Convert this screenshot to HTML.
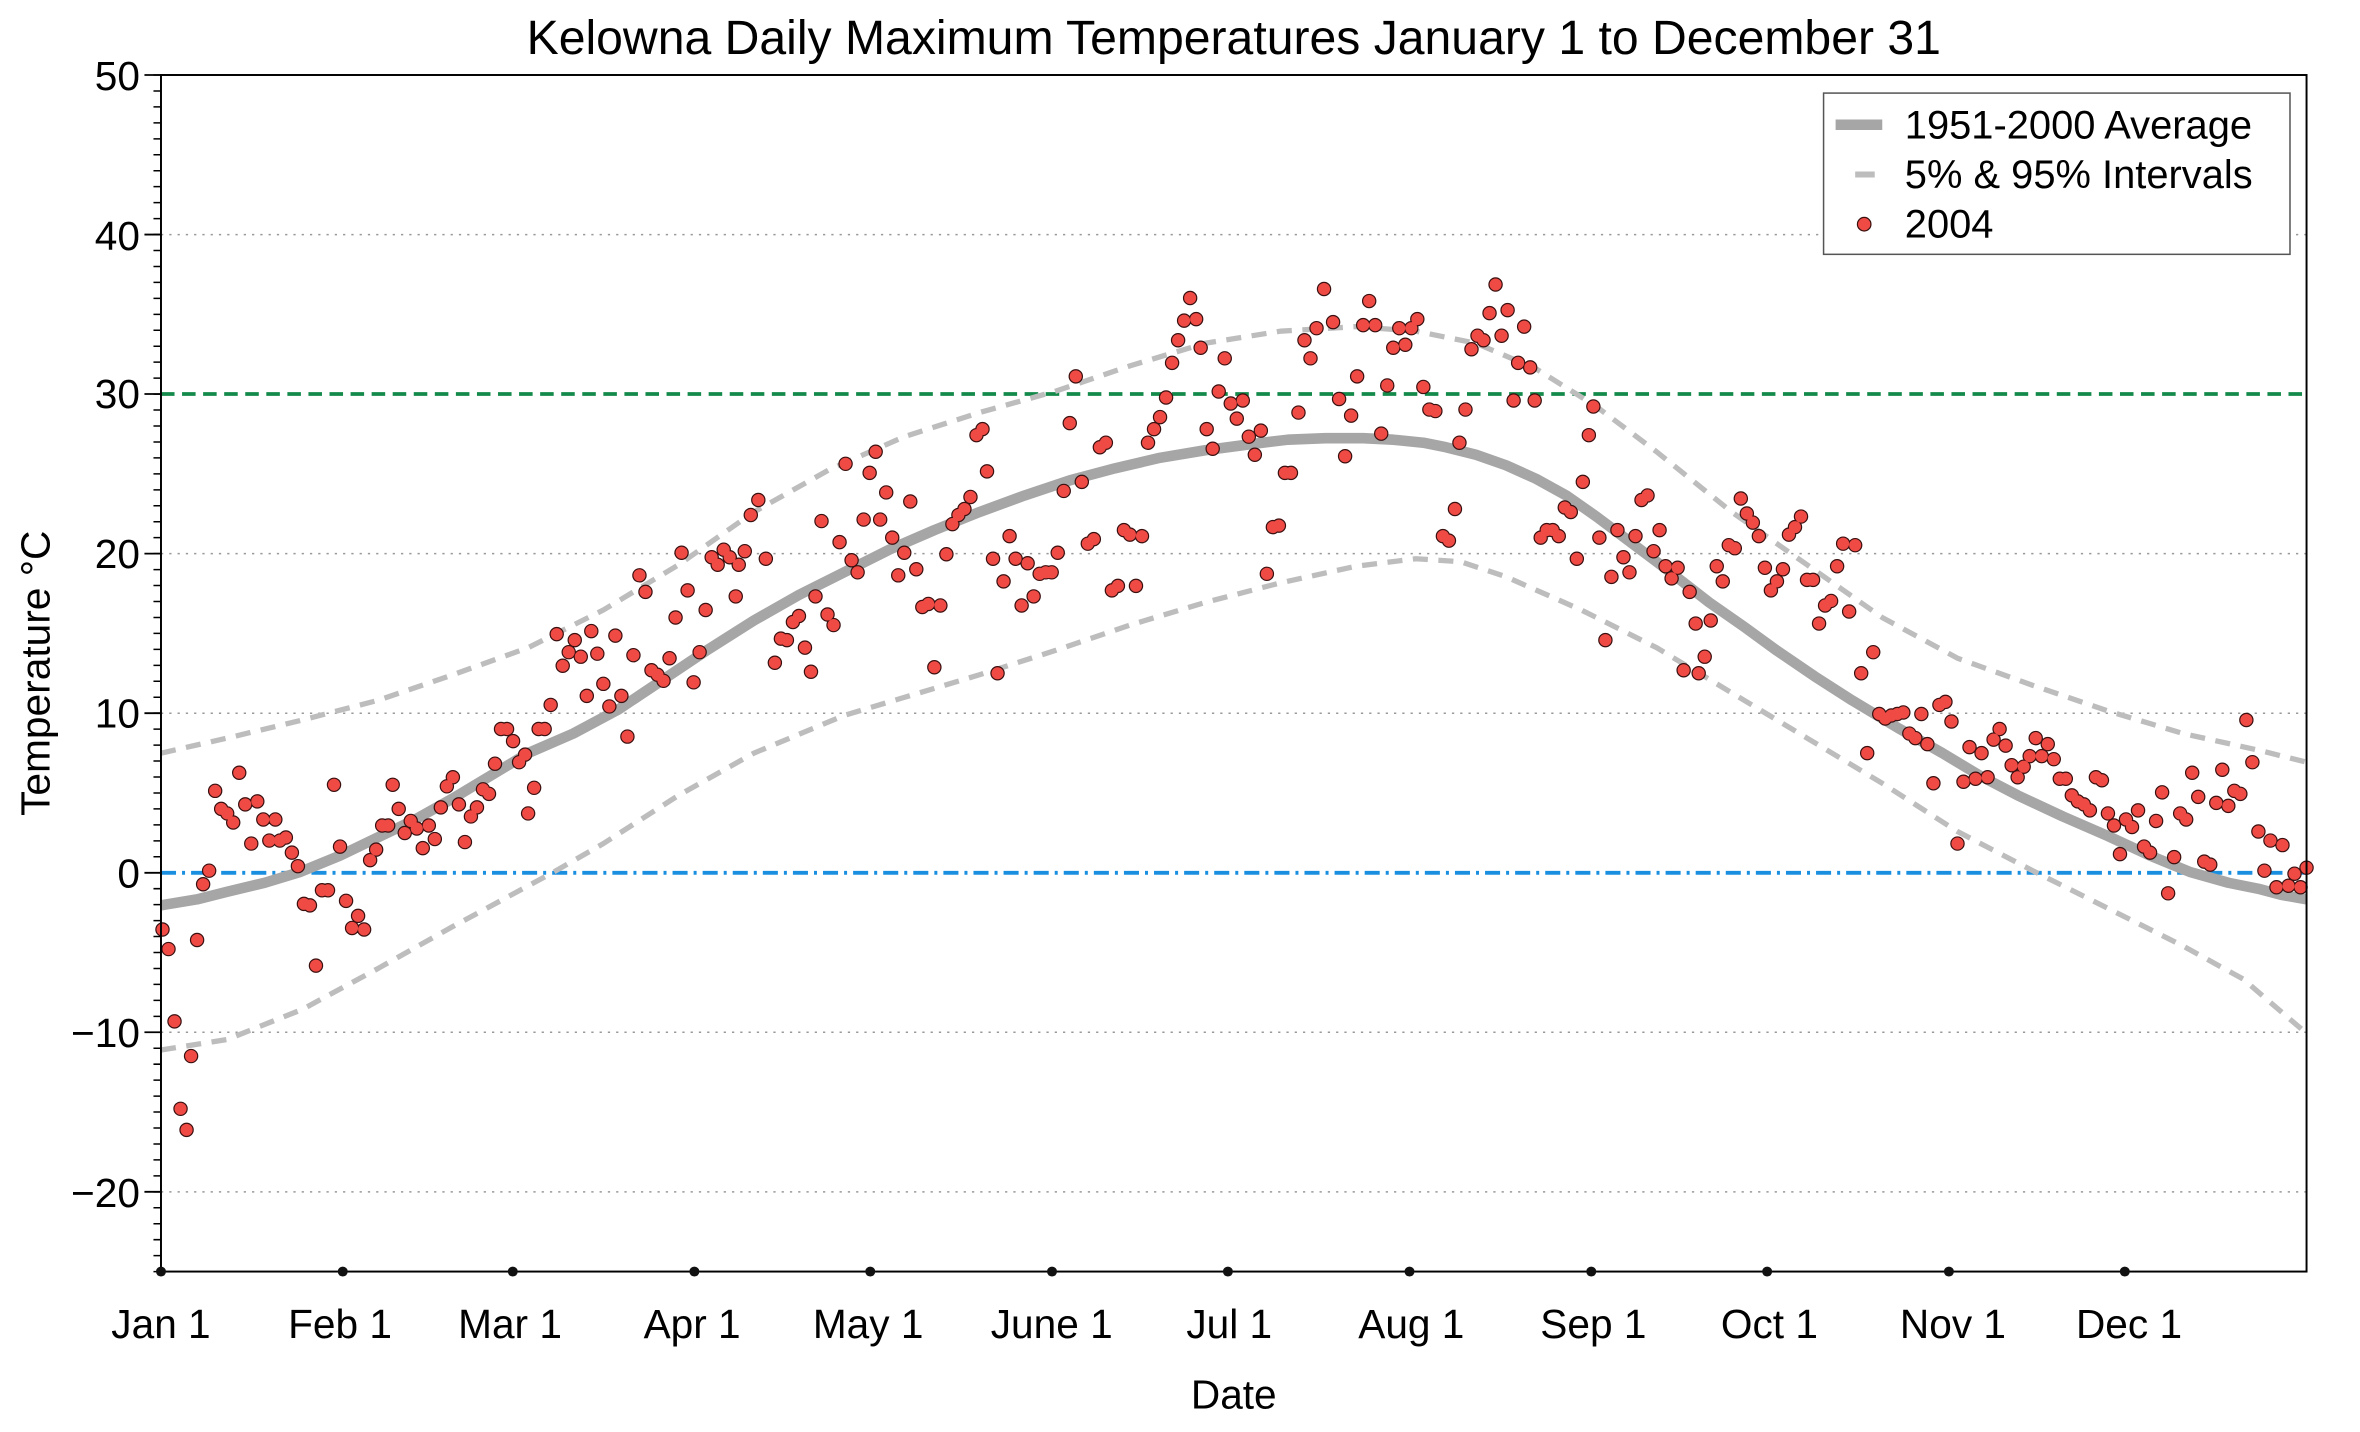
<!DOCTYPE html>
<html><head><meta charset="utf-8"><style>
html,body{margin:0;padding:0;background:#fff;}
svg{display:block;font-family:"Liberation Sans",Arial,sans-serif;}
</style></head><body>
<svg width="2360" height="1432" viewBox="0 0 2360 1432" xmlns="http://www.w3.org/2000/svg">
<defs>
<path id="pd" d="M107 617h0M111 630h0M115 678h0M119 736h0M123 750h0M126 701h0M130 624h0M134 587h0M138 578h0M142 525h0M146 537h0M150 540h0M154 546h0M158 513h0M162 534h0M166 560h0M170 532h0M174 544h0M178 558h0M182 544h0M185 558h0M189 556h0M193 566h0M197 575h0M201 600h0M205 601h0M209 641h0M213 591h0M217 591h0M221 521h0M225 562h0M229 598h0M233 616h0M237 608h0M241 617h0M245 571h0M249 564h0M253 548h0M257 548h0M260 521h0M264 537h0M268 553h0M272 545h0M276 550h0M280 563h0M284 548h0M288 557h0M292 536h0M296 522h0M300 516h0M304 534h0M308 559h0M312 542h0M316 536h0M320 524h0M324 527h0M328 507h0M332 484h0M336 484h0M340 492h0M344 506h0M348 501h0M350 540h0M354 523h0M357 484h0M361 484h0M365 468h0M369 421h0M373 442h0M377 433h0M381 425h0M385 436h0M389 462h0M392 419h0M396 434h0M400 454h0M404 469h0M408 422h0M412 462h0M416 489h0M420 435h0M424 382h0M428 393h0M432 445h0M436 448h0M440 452h0M444 437h0M448 410h0M452 367h0M456 392h0M460 453h0M464 433h0M468 405h0M472 370h0M476 375h0M480 365h0M484 370h0M488 396h0M490 375h0M494 366h0M498 342h0M503 332h0M508 371h0M514 440h0M518 424h0M522 425h0M526 413h0M530 409h0M534 430h0M538 446h0M541 396h0M545 346h0M549 408h0M553 415h0M557 360h0M561 308h0M565 372h0M569 380h0M573 345h0M577 314h0M581 300h0M584 345h0M588 327h0M592 357h0M596 382h0M600 367h0M604 333h0M608 378h0M612 403h0M616 401h0M620 443h0M624 402h0M628 368h0M632 348h0M636 342h0M640 338h0M644 330h0M648 289h0M652 285h0M655 313h0M659 371h0M662 447h0M666 386h0M670 356h0M674 371h0M678 402h0M682 374h0M686 396h0M690 381h0M694 380h0M698 380h0M702 367h0M706 326h0M710 281h0M714 250h0M718 320h0M722 361h0M726 358h0M730 297h0M734 294h0M738 392h0M742 389h0M746 352h0M750 355h0M754 389h0M758 356h0M762 294h0M766 285h0M770 277h0M774 264h0M778 241h0M782 226h0M786 213h0M790 198h0M794 212h0M797 231h0M801 285h0M805 298h0M809 260h0M813 238h0M817 268h0M821 278h0M825 266h0M829 290h0M833 302h0M837 286h0M841 381h0M845 350h0M849 349h0M853 314h0M857 314h0M862 274h0M866 226h0M870 238h0M874 218h0M879 192h0M885 214h0M889 265h0M893 303h0M897 276h0M901 250h0M905 216h0M909 200h0M913 216h0M917 288h0M921 256h0M925 231h0M929 218h0M933 229h0M937 218h0M941 212h0M945 257h0M949 272h0M953 273h0M958 356h0M962 359h0M966 338h0M969 294h0M973 272h0M977 232h0M981 223h0M985 226h0M989 208h0M993 189h0M997 223h0M1001 206h0M1005 266h0M1008 241h0M1012 217h0M1016 244h0M1019 266h0M1023 357h0M1027 352h0M1031 352h0M1035 356h0M1039 337h0M1043 340h0M1047 371h0M1051 320h0M1055 289h0M1058 270h0M1062 357h0M1066 425h0M1070 383h0M1074 352h0M1078 370h0M1082 380h0M1086 356h0M1090 332h0M1094 329h0M1098 366h0M1102 352h0M1106 376h0M1110 384h0M1114 377h0M1118 445h0M1122 393h0M1126 414h0M1128 447h0M1132 436h0M1136 412h0M1140 376h0M1144 386h0M1148 362h0M1152 364h0M1156 331h0M1160 341h0M1164 347h0M1168 356h0M1172 377h0M1176 392h0M1180 386h0M1184 378h0M1188 355h0M1192 350h0M1196 343h0M1200 385h0M1204 385h0M1208 414h0M1212 402h0M1216 399h0M1220 376h0M1224 361h0M1228 406h0M1232 362h0M1236 447h0M1240 500h0M1244 433h0M1248 474h0M1252 477h0M1256 475h0M1260 474h0M1264 473h0M1268 487h0M1272 490h0M1276 474h0M1280 494h0M1284 520h0M1288 468h0M1292 466h0M1296 479h0M1300 560h0M1304 519h0M1308 496h0M1312 517h0M1316 500h0M1320 516h0M1324 491h0M1328 484h0M1332 495h0M1336 508h0M1340 516h0M1344 509h0M1348 502h0M1352 490h0M1356 502h0M1360 494h0M1364 504h0M1368 517h0M1372 517h0M1376 528h0M1380 532h0M1384 534h0M1388 538h0M1392 516h0M1396 518h0M1400 540h0M1404 548h0M1408 567h0M1412 544h0M1416 549h0M1420 538h0M1424 562h0M1428 566h0M1432 545h0M1436 526h0M1440 593h0M1444 569h0M1448 540h0M1452 544h0M1456 513h0M1460 529h0M1464 572h0M1468 574h0M1472 533h0M1476 511h0M1480 535h0M1484 525h0M1488 527h0M1492 478h0M1496 506h0M1500 552h0M1504 578h0M1508 558h0M1512 589h0M1516 561h0M1520 588h0M1524 580h0M1528 589h0M1532 576h0"/>
</defs>
<rect width="2360" height="1432" fill="#fff"/>
<g transform="matrix(1.5046 0 0 1.507 1.5 -0.35)">
<text x="819" y="36" font-size="32" text-anchor="middle">Kelowna Daily Maximum Temperatures January 1 to December 31</text>
<g stroke="#999" stroke-width="1" stroke-dasharray="1.5 4">
<line x1="106" x2="1532" y1="155.9" y2="155.9"/>
<line x1="106" x2="1532" y1="367.6" y2="367.6"/>
<line x1="106" x2="1532" y1="473.5" y2="473.5"/>
<line x1="106" x2="1532" y1="685.2" y2="685.2"/>
<line x1="106" x2="1532" y1="791.1" y2="791.1"/>
</g>
<line x1="106" x2="1532" y1="261.7" y2="261.7" stroke="#138a4a" stroke-width="2.5" stroke-dasharray="9 5"/>
<line x1="106" x2="1532" y1="579.4" y2="579.4" stroke="#1a8fe0" stroke-width="2.5" stroke-dasharray="10 4 2 4"/>
<polyline fill="none" stroke="#bdbdbd" stroke-width="3.5" stroke-dasharray="10 7" stroke-linejoin="round" points="106,500 150,490 200,478 250,465 300,448 350,430 400,405 450,375 500,340 550,312 600,290 650,274 700,260 750,243 800,228 850,220 900,217 940,220 980,228 1020,245 1060,270 1100,300 1150,340 1200,375 1250,410 1300,437 1350,455 1400,472 1450,487 1500,498 1532,506"/>
<polyline fill="none" stroke="#bdbdbd" stroke-width="3.5" stroke-dasharray="10 7" stroke-linejoin="round" points="106,697 150,690 200,670 250,643 300,615 365,580 400,560 450,528 500,500 560,475 600,463 650,448 700,432 750,415 800,400 850,387 900,376 940,371 970,373 1000,383 1050,405 1100,430 1150,460 1200,490 1250,520 1300,552 1350,578 1400,603 1450,628 1490,650 1532,686"/>
<polyline fill="none" stroke="#a6a6a6" stroke-width="7" stroke-linejoin="round" points="106,601 130,597 150,592 175,586 198,579 225,568 250,556 275,544 300,530 325,515 350,500 380,487 410,471 440,451 470,431 500,412 530,395 560,380 590,365 620,352 650,340 680,329 710,319 740,311 770,304 800,299 830,295 855,292 880,291 905,291 925,292 945,294 960,297 980,302 1000,309 1020,318 1040,329 1060,343 1080,358 1108,379 1135,400 1158,416 1180,432 1205,449 1230,465 1260,483 1290,500 1315,515 1340,528 1370,542 1400,555 1428,568 1455,579 1480,586 1500,590 1515,594 1532,597"/>
<use href="#pd" fill="none" stroke="#3a1010" stroke-width="9.6" stroke-linecap="round"/>
<use href="#pd" fill="none" stroke="#f04a45" stroke-width="8" stroke-linecap="round"/>
<rect x="106" y="50" width="1426" height="794" fill="none" stroke="#000" stroke-width="1.3"/>
<line x1="103.5" x2="103.5" y1="49.5" y2="845" stroke="#000" stroke-width="5" stroke-dasharray="1 9.587"/>
<path stroke="#000" stroke-width="1.2" d="M95 50H106M95 155.9H106M95 261.7H106M95 367.6H106M95 473.5H106M95 579.4H106M95 685.2H106M95 791.1H106"/>
<g font-size="27" text-anchor="end">
<text x="92" y="60">50</text><text x="92" y="166">40</text><text x="92" y="271">30</text><text x="92" y="377">20</text>
<text x="92" y="483">10</text><text x="92" y="589">0</text><text x="92" y="695">−10</text><text x="92" y="801">−20</text>
</g>
<g fill="#111">
<circle cx="106" cy="844" r="3.3"/><circle cx="226.8" cy="844" r="3.3"/><circle cx="339.8" cy="844" r="3.3"/>
<circle cx="460.5" cy="844" r="3.3"/><circle cx="577.4" cy="844" r="3.3"/><circle cx="698.2" cy="844" r="3.3"/>
<circle cx="815.1" cy="844" r="3.3"/><circle cx="935.8" cy="844" r="3.3"/><circle cx="1056.6" cy="844" r="3.3"/>
<circle cx="1173.5" cy="844" r="3.3"/><circle cx="1294.3" cy="844" r="3.3"/><circle cx="1411.2" cy="844" r="3.3"/>
</g>
<g font-size="27" text-anchor="middle">
<text x="106" y="888">Jan 1</text><text x="225" y="888">Feb 1</text><text x="338" y="888">Mar 1</text>
<text x="459" y="888">Apr 1</text><text x="576" y="888">May 1</text><text x="698" y="888">June 1</text>
<text x="816" y="888">Jul 1</text><text x="937" y="888">Aug 1</text><text x="1058" y="888">Sep 1</text>
<text x="1175" y="888">Oct 1</text><text x="1297" y="888">Nov 1</text><text x="1414" y="888">Dec 1</text>
<text x="819" y="935">Date</text>
</g>
<text transform="translate(32,447) rotate(-90)" font-size="27" text-anchor="middle">Temperature °C</text>
<rect x="1211" y="62" width="310" height="107" fill="#fff" stroke="#555" stroke-width="1"/>
<line x1="1219" x2="1250" y1="83" y2="83" stroke="#a6a6a6" stroke-width="7"/>
<line x1="1232" x2="1245" y1="116" y2="116" stroke="#bdbdbd" stroke-width="4"/>
<circle cx="1238" cy="149" r="4.5" fill="#f04a45" stroke="#3a1010" stroke-width="0.8"/>
<g font-size="26.5"><text x="1265" y="92">1951-2000 Average</text><text x="1265" y="125">5% &amp; 95% Intervals</text><text x="1265" y="158">2004</text></g>
</g>
</svg>
</body></html>
